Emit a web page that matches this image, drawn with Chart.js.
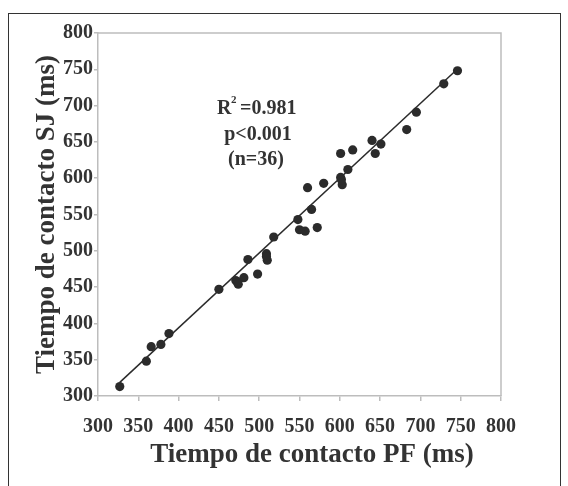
<!DOCTYPE html>
<html>
<head>
<meta charset="utf-8">
<script src="https://cdn.jsdelivr.net/npm/chart.js@4"></script>
<style>
  body { margin: 0; background: #fff; }
  #wrap { position: relative; width: 568px; height: 486px; overflow: hidden; }
  #frame { position: absolute; left: 8px; top: 13px; width: 551px; height: 520px; border: 1.5px solid #333; }
  canvas { position: absolute; left: 0; top: 0; }
</style>
</head>
<body>
<div id="wrap">
  <div id="frame"></div>
  <canvas id="myChart" width="568" height="486"></canvas>
</div>
<script>
/* Datos: tiempo de contacto PF vs SJ (ms) */
const pf = [327, 360, 366, 378, 388, 450, 471, 474, 481, 486, 498, 509, 510, 518,
            548, 550, 557, 572, 565, 560, 580, 601, 603, 610, 601, 616, 640, 644,
            651, 683, 695, 729, 746, 473, 602, 509];
const sj = [313, 348, 368, 371, 386, 447, 459, 454, 463, 488, 468, 496, 487, 519,
            543, 529, 527, 532, 557, 587, 593, 601, 591, 612, 634, 639, 652, 634,
            647, 667, 691, 730, 748, 457, 598, 492];
const fitSlope = 1.03;
const fitIntercept = -18;
const fitRange = [327, 746];
const tickValues = [300, 350, 400, 450, 500, 550, 600, 650, 700, 750, 800];
const statLines = ['R', '=0.981', 'p<0.001', '(n=36)'];
const xTitle = 'Tiempo de contacto PF (ms)';
const yTitle = 'Tiempo de contacto SJ (ms)';

const points = pf.map((x, i) => ({ x: x, y: sj[i] }));
const fitLine = fitRange.map(x => ({ x: x, y: fitSlope * x + fitIntercept }));

const ink = '#333';
const axisGray = '#bdbdbd';
const tickFont = { family: 'Liberation Serif', weight: 'bold', size: 20 };
const titleFont = { family: 'Liberation Serif', weight: 'bold', size: 27 };

/* caja del grafico, titulo X y texto de estadisticos */
const boxAndStats = {
  id: 'boxAndStats',
  afterDraw(chart) {
    const c = chart.ctx;
    const a = chart.chartArea;
    c.save();
    c.strokeStyle = axisGray;
    c.lineWidth = 1.5;
    c.beginPath();
    c.moveTo(a.left, a.top);
    c.lineTo(a.right, a.top);
    c.lineTo(a.right, a.bottom);
    c.stroke();

    c.fillStyle = ink;
    c.textBaseline = 'middle';
    c.textAlign = 'center';
    c.font = 'bold 27px "Liberation Serif"';
    c.fillText(xTitle, 312, 455);

    c.textBaseline = 'alphabetic';
    c.textAlign = 'left';
    c.font = 'bold 20px "Liberation Serif"';
    c.fillText(statLines[0], 217, 114);
    c.font = 'bold 11px "Liberation Serif"';
    c.fillText('2', 231, 103);
    c.font = 'bold 20px "Liberation Serif"';
    c.fillText(statLines[1], 240, 114);
    c.textAlign = 'center';
    c.fillText(statLines[2], 258, 140);
    c.fillText(statLines[3], 256, 165);
    c.restore();
  }
};

const ctx = document.getElementById('myChart');

new Chart(ctx, {
  type: 'scatter',
  data: {
    datasets: [{
      data: points,
      pointRadius: 4.6,
      pointBackgroundColor: '#2b2b2b',
      pointBorderWidth: 0,
      order: 1
    }, {
      type: 'line',
      data: fitLine,
      borderColor: '#2b2b2b',
      borderWidth: 1.5,
      pointRadius: 0,
      fill: false,
      order: 2
    }]
  },
  options: {
    responsive: false,
    animation: false,
    events: [],
    layout: { padding: { left: 0, top: 33, right: 67, bottom: 0 } },
    plugins: { legend: { display: false }, tooltip: { enabled: false } },
    scales: {
      x: {
        type: 'linear',
        min: 300,
        max: 800,
        afterFit: s => { s.height = 90; },
        afterBuildTicks: s => { s.ticks = tickValues.map(v => ({ value: v })); },
        border: { color: axisGray, width: 1.5 },
        grid: { drawOnChartArea: false, tickLength: 5, color: axisGray, lineWidth: 1.5 },
        ticks: { font: tickFont, color: ink, padding: 14, maxRotation: 0 },
        title: { display: false }
      },
      y: {
        type: 'linear',
        min: 300,
        max: 800,
        afterFit: s => { s.width = 98; },
        afterBuildTicks: s => { s.ticks = tickValues.map(v => ({ value: v })); },
        border: { color: axisGray, width: 1.5 },
        grid: { drawOnChartArea: false, tickLength: 4, color: axisGray, lineWidth: 1.5 },
        ticks: { font: tickFont, color: ink, padding: 1 },
        title: {
          display: true,
          text: yTitle,
          font: titleFont,
          color: ink,
          padding: { top: 31, bottom: 0 }
        }
      }
    }
  },
  plugins: [boxAndStats]
});
</script>
</body>
</html>
